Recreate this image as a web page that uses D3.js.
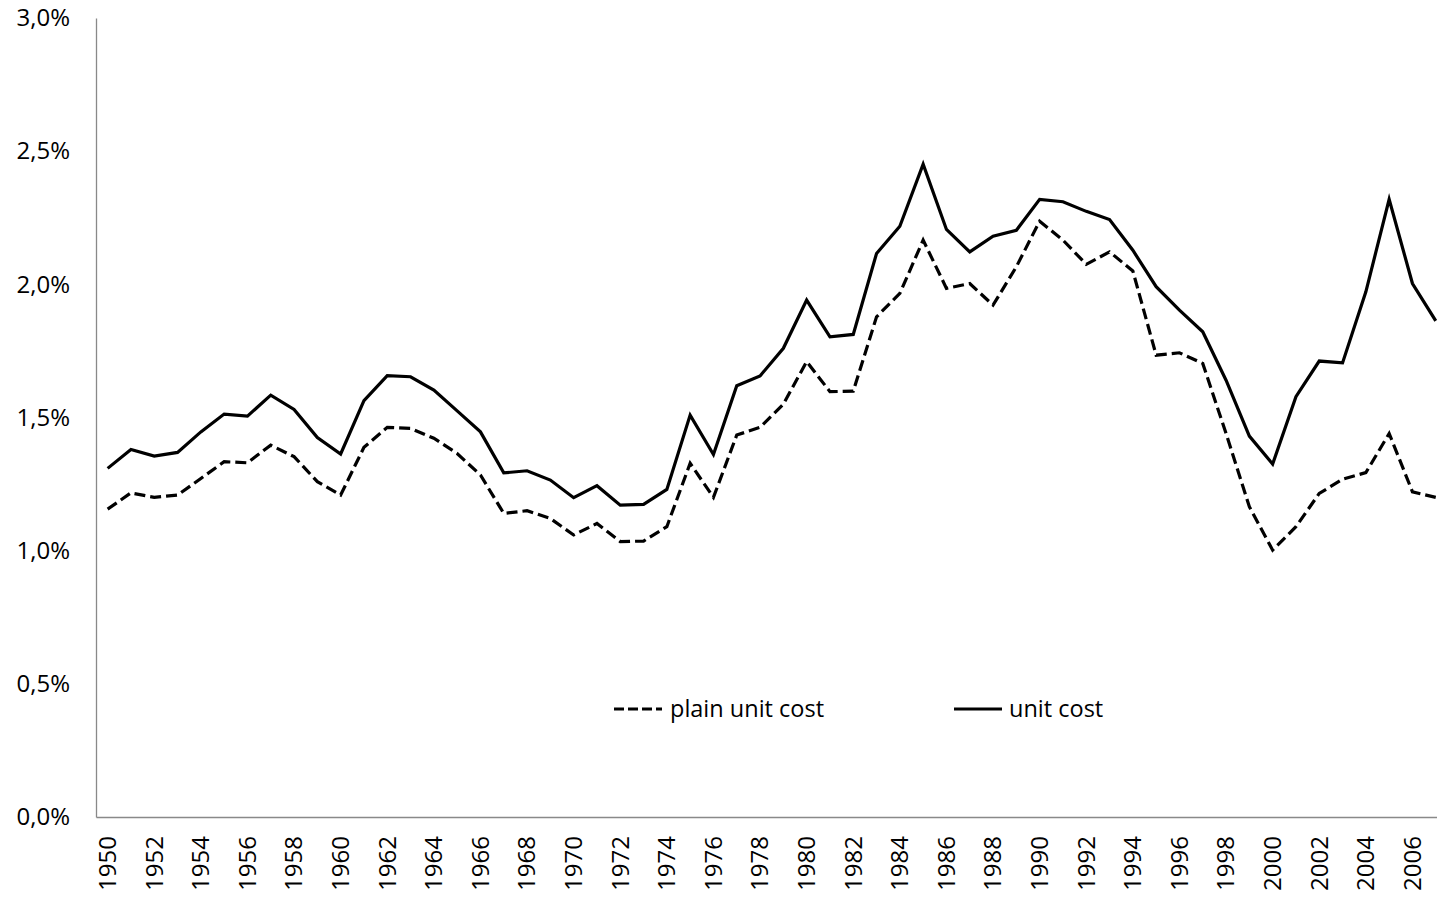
<!DOCTYPE html>
<html>
<head>
<meta charset="utf-8">
<script src="https://cdn.jsdelivr.net/npm/d3@7"></script>
<style>
  html, body { margin: 0; padding: 0; background: #fff; }
  svg { display: block; }
  text { font-family: "Open Sans", sans-serif; fill: #000; }
</style>
</head>
<body>
<div id="chart"></div>
<script>
const WIDTH = 1437
const HEIGHT = 897

const years = [
    1950, 1951, 1952, 1953, 1954, 1955, 1956, 1957, 1958, 1959,
    1960, 1961, 1962, 1963, 1964, 1965, 1966, 1967, 1968, 1969,
    1970, 1971, 1972, 1973, 1974, 1975, 1976, 1977, 1978, 1979,
    1980, 1981, 1982, 1983, 1984, 1985, 1986, 1987, 1988, 1989,
    1990, 1991, 1992, 1993, 1994, 1995, 1996, 1997, 1998, 1999,
    2000, 2001, 2002, 2003, 2004, 2005, 2006, 2007
]

// values in percent
const unitCost = [
    1.309, 1.380, 1.355, 1.369, 1.446, 1.513, 1.505, 1.584, 1.530, 1.425,
    1.363, 1.563, 1.657, 1.653, 1.603, 1.525, 1.446, 1.292, 1.300, 1.265,
    1.199, 1.244, 1.171, 1.174, 1.230, 1.509, 1.361, 1.619, 1.656, 1.760,
    1.941, 1.803, 1.812, 2.116, 2.218, 2.451, 2.206, 2.122, 2.181, 2.203,
    2.319, 2.310, 2.274, 2.243, 2.128, 1.991, 1.903, 1.822, 1.640, 1.430,
    1.325, 1.578, 1.712, 1.705, 1.972, 2.319, 2.003, 1.863
]

const plainUnitCost = [
    1.156, 1.217, 1.200, 1.209, 1.271, 1.334, 1.330, 1.396, 1.353, 1.259,
    1.209, 1.388, 1.463, 1.459, 1.422, 1.365, 1.284, 1.140, 1.150, 1.121,
    1.059, 1.102, 1.034, 1.036, 1.090, 1.328, 1.200, 1.434, 1.463, 1.550,
    1.710, 1.597, 1.599, 1.878, 1.966, 2.166, 1.985, 2.003, 1.922, 2.066,
    2.237, 2.166, 2.075, 2.122, 2.050, 1.734, 1.743, 1.703, 1.440, 1.165,
    1.002, 1.090, 1.215, 1.268, 1.293, 1.440, 1.221, 1.200
]

const yTicks = [0, 0.5, 1.0, 1.5, 2.0, 2.5, 3.0]
const xTickYears = years.filter(y => y % 2 === 0)

const seriesNames = ['plain unit cost', 'unit cost']

const svg = d3.select('#chart')
    .append('svg')
    .attr('width', WIDTH)
    .attr('height', HEIGHT)

const x = d3.scaleBand()
    .domain(years)
    .range([96, 96 + years.length * 23.3])

const y = d3.scaleLinear()
    .domain([0, 3])
    .range([817, 18])

const cx = yr => x(yr) + x.bandwidth() / 2

// axes
const yAxis = svg.append('g')
    .attr('transform', 'translate(96,0)')
    .call(d3.axisLeft(y).tickValues(yTicks).tickSize(0).tickPadding(26)
        .tickFormat(v => v.toFixed(1).replace('.', ',') + '%'))
yAxis.select('.domain').attr('stroke', '#898989').attr('stroke-width', 1.3)
yAxis.selectAll('text')
    .style('font-family', '"Open Sans", sans-serif')
    .style('font-size', '24px')
    .attr('fill', '#000')

const xAxis = svg.append('g')
    .attr('transform', 'translate(0,817)')
    .call(d3.axisBottom(x).tickValues(xTickYears).tickSize(0).tickFormat(d3.format('d')))
xAxis.select('.domain').attr('stroke', '#898989').attr('stroke-width', 1.3)
xAxis.selectAll('text')
    .style('font-family', '"Open Sans", sans-serif')
    .style('font-size', '24px')
    .attr('fill', '#000')
    .attr('text-anchor', 'end')
    .attr('transform', 'rotate(-90)')
    .attr('x', -19)
    .attr('y', 0)
    .attr('dy', '0.35em')

// lines
const line = d3.line()
    .x((d, i) => cx(years[i]))
    .y(d => y(d))

svg.append('path')
    .datum(plainUnitCost)
    .attr('d', line)
    .attr('fill', 'none')
    .attr('stroke', '#000')
    .attr('stroke-width', 3.2)
    .attr('stroke-dasharray', '11,5')

svg.append('path')
    .datum(unitCost)
    .attr('d', line)
    .attr('fill', 'none')
    .attr('stroke', '#000')
    .attr('stroke-width', 3.2)

// legend
const legend = svg.append('g')
const legendX = [614, 954]
seriesNames.forEach((name, i) => {
    const g = legend.append('g').attr('transform', `translate(${legendX[i]},709)`)
    g.append('line')
        .attr('x1', 0).attr('x2', 48)
        .attr('y1', 0).attr('y2', 0)
        .attr('stroke', '#000')
        .attr('stroke-width', 3.2)
        .attr('stroke-dasharray', i === 0 ? '10,4' : null)
    g.append('text')
        .attr('x', i === 0 ? 56 : 55)
        .attr('y', 0)
        .attr('dy', '0.35em')
        .style('font-size', '23.5px')
        .text(name)
})
</script>
</body>
</html>
